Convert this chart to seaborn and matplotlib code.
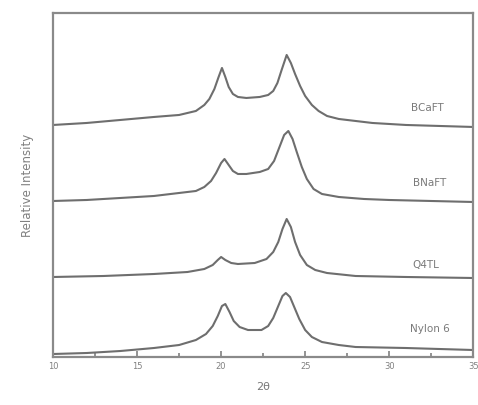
import matplotlib
matplotlib.use("Agg")
import matplotlib.pyplot as plt
import seaborn as sns
import pandas as pd
from matplotlib.ticker import MultipleLocator

sns.set_style("white")
plt.rcParams['font.family'] = ['DejaVu Sans']

# Series (2-theta, relative intensity in arbitrary stacked units)
bcaft_x = [10, 12, 14, 16, 17.5, 18.5, 19.0, 19.3, 19.6, 19.85, 20.05, 20.25, 20.45, 20.7, 21.0, 21.5, 22.3, 22.8, 23.1, 23.35, 23.6, 23.9, 24.15, 24.4, 24.7, 25.0, 25.4, 25.8, 26.3, 27, 29, 31, 33, 35]
bcaft_y = [232, 234, 237, 240, 242, 246, 252, 258, 268, 280, 289, 280, 270, 263, 260, 259, 260, 262, 266, 274, 287, 302, 294, 283, 271, 261, 252, 246, 241, 238, 234, 232, 231, 230]

bnaft_x = [10, 12, 14, 16, 17.5, 18.5, 19.0, 19.4, 19.7, 20.0, 20.2, 20.45, 20.7, 21.0, 21.5, 22.3, 22.8, 23.15, 23.45, 23.75, 24.0, 24.25, 24.5, 24.8, 25.1, 25.5, 26, 27, 28.5, 30, 35]
bnaft_y = [156, 157, 159, 161, 164, 166, 170, 176, 184, 194, 198, 192, 186, 183, 183, 185, 188, 196, 209, 222, 226, 218, 205, 190, 178, 168, 163, 160, 158, 157, 155]

q4tl_x = [10, 13, 16, 18, 19, 19.5, 19.8, 20.0, 20.25, 20.6, 21, 22, 22.7, 23.1, 23.4, 23.65, 23.9, 24.15, 24.4, 24.7, 25.1, 25.6, 26.3, 28, 31, 35]
q4tl_y = [80, 81, 83, 85, 88, 92, 97, 100, 97, 94, 93, 94, 98, 105, 115, 128, 138, 130, 115, 102, 92, 87, 84, 81, 80, 79]

nylon_x = [10, 12, 14, 16, 17.5, 18.5, 19.1, 19.5, 19.8, 20.05, 20.25, 20.5, 20.75, 21.1, 21.6, 22.4, 22.8, 23.1, 23.4, 23.65, 23.85, 24.1, 24.35, 24.65, 25.0, 25.4, 26, 27, 28, 31, 35]
nylon_y = [3, 4, 6, 9, 12, 17, 23, 31, 41, 51, 53, 45, 36, 30, 27, 27, 31, 39, 51, 61, 64, 60, 50, 38, 27, 20, 15, 12, 10, 9, 7]

names = ["BCaFT", "BNaFT", "Q4TL", "Nylon 6"]
label_x = [32.3, 32.4, 32.2, 32.4]
label_y = [249, 174, 92, 28]

xticks = [10, 15, 20, 25, 30, 35]

frames = []
for n, xs, ys in zip(names, [bcaft_x, bnaft_x, q4tl_x, nylon_x], [bcaft_y, bnaft_y, q4tl_y, nylon_y]):
    frames.append(pd.DataFrame({"x": xs, "y": ys, "sample": n}))
df = pd.concat(frames, ignore_index=True)

fig = plt.figure(figsize=(4.78, 4.05), dpi=100)
ax = fig.add_axes([0.111, 0.1185, 0.879, 0.8495])

sns.lineplot(data=df, x="x", y="y", hue="sample", units="sample", estimator=None,
             palette=["#6e6e6e"] * 4, linewidth=1.5, legend=False, ax=ax, sort=True)

for n, lx, ly in zip(names, label_x, label_y):
    ax.text(lx, ly, n, fontsize=7.5, color="#7a7a7a", ha="center", va="center")

ax.set_xlim(10, 35)
ax.set_ylim(0, 344)
ax.set_xticks(xticks)
ax.set_xticklabels([str(t) for t in xticks])
ax.xaxis.set_minor_locator(MultipleLocator(2.5))
ax.set_yticks([])
ax.tick_params(axis="x", which="major", direction="in", length=4, width=1.2, colors="#808080",
               labelsize=6, bottom=True)
ax.tick_params(axis="x", which="minor", direction="in", length=3, width=1.2, colors="#808080", bottom=True)
ax.set_xlabel("2θ", fontsize=8, color="#777777", labelpad=8)
ax.set_ylabel("Relative Intensity", fontsize=8.5, color="#808080", labelpad=14)
for s in ax.spines.values():
    s.set_color("#8a8a8a")
    s.set_linewidth(1.6)

fig.savefig("out.png", dpi=100)
